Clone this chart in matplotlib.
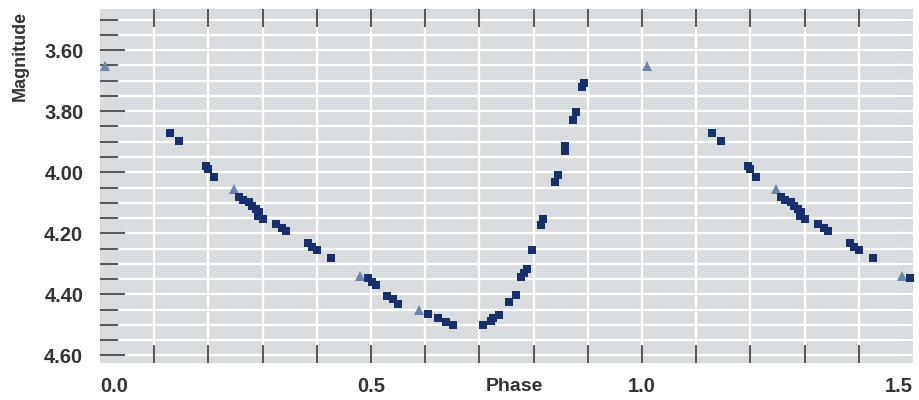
import matplotlib.pyplot as plt
import numpy as np

# phase-folded light curve
sq_phase = [0.129, 0.146, 0.196, 0.200, 0.211, 0.257, 0.264, 0.274, 0.281, 0.288,
            0.294, 0.292, 0.301, 0.325, 0.336, 0.344, 0.384, 0.392, 0.401, 0.427,
            0.494, 0.501, 0.510, 0.530, 0.540, 0.549, 0.606, 0.623, 0.638, 0.652,
            0.706, 0.721, 0.726, 0.737, 0.754, 0.767, 0.776, 0.782, 0.787, 0.797,
            0.813, 0.817, 0.839, 0.845, 0.858, 0.858, 0.872, 0.878, 0.889, 0.893]
sq_mag = [3.872, 3.898, 3.980, 3.990, 4.016, 4.082, 4.092, 4.098, 4.111, 4.121,
          4.131, 4.144, 4.154, 4.170, 4.184, 4.193, 4.233, 4.246, 4.256, 4.282,
          4.348, 4.361, 4.370, 4.407, 4.416, 4.433, 4.466, 4.479, 4.492, 4.502,
          4.502, 4.489, 4.479, 4.469, 4.426, 4.403, 4.344, 4.331, 4.318, 4.256,
          4.174, 4.154, 4.033, 4.010, 3.931, 3.915, 3.830, 3.803, 3.721, 3.708]

tri_phase = [0.009, 0.248, 0.479, 0.588]
tri_mag = [3.652, 4.056, 4.341, 4.452]

x_labels = ['0.0', '0.5', '1.0', '1.5']
x_label_pos = [0.0, 0.5, 1.0, 1.5]
x_label_ha = ['left', 'center', 'center', 'right']

# -------------------------------------------------- #

def fold_twice(phase, mag, upper=1.498):
    # show one and a half cycles: repeat each point one phase later
    phase = np.asarray(phase)
    mag = np.asarray(mag)
    p2 = phase + 1.0
    keep = p2 <= upper
    return np.concatenate([phase, p2[keep]]), np.concatenate([mag, mag[keep]])

bg = '#d9dcdf'
tick_col = '#5a5a5a'
text_col = '#333333'
font = ['Liberation Sans', 'DejaVu Sans']

fig = plt.figure(figsize=(9.19, 4.0), dpi=100)
ax = fig.add_axes([0.1088, 0.0925, 0.8847, 0.885])
ax.set_facecolor(bg)
for s in ax.spines.values():
    s.set_visible(False)

ax.set_xlim(0, 1.5)
ax.set_ylim(4.625, 3.465)

# white grid every 0.1 in phase, every 0.05 in magnitude
for v in np.arange(0.1, 1.45, 0.1):
    ax.axvline(v, color='white', lw=1.7, zorder=0.5)
for v in np.arange(3.5, 4.61, 0.05):
    ax.axhline(v, color='white', lw=1.7, zorder=0.5)

px, py = fold_twice(sq_phase, sq_mag)
tx, ty = fold_twice(tri_phase, tri_mag)
ax.plot(tx, ty, '^', color='#6d84ad', ms=7, mew=0, zorder=3, clip_on=False)
ax.plot(px, py, 's', color='#17306c', ms=5.4, mew=0, zorder=4)

# y ticks: long majors with labels, short minors
ax.set_yticks(np.arange(3.6, 4.61, 0.2))
ax.set_yticklabels([f'{v:.2f}' for v in np.arange(3.6, 4.61, 0.2)])
ax.set_yticks(np.arange(3.5, 4.61, 0.05), minor=True)
ax.tick_params(axis='y', which='major', direction='in', length=18, width=1.5,
               color=tick_col, pad=12, labelsize=14.5, labelcolor=text_col)
ax.tick_params(axis='y', which='minor', direction='in', length=13, width=1.5,
               color=tick_col)
for lab in ax.get_yticklabels():
    lab.set_fontweight('bold')
    lab.set_family(font)

# right side ticks, all the same length
sec = ax.secondary_yaxis('right')
sec.set_yticks(np.arange(3.5, 4.61, 0.05))
sec.set_yticklabels([])
sec.tick_params(direction='in', length=11, width=1.5, color=tick_col)
sec.spines['right'].set_visible(False)

# x ticks top and bottom, labels drawn as text
ax.set_xticks(np.arange(0.1, 1.45, 0.1))
ax.set_xticklabels([])
ax.tick_params(axis='x', which='major', direction='in', length=13, width=1.5,
               color=tick_col, top=True, bottom=True)

trans = ax.get_xaxis_transform()
for pos, lab, ha in zip(x_label_pos, x_labels, x_label_ha):
    ax.text(pos, -0.066, lab, transform=trans, ha=ha, va='center',
            fontsize=14.5, fontweight='bold', color=text_col, family=font)
ax.text(0.51, -0.066, 'Phase', transform=ax.transAxes, ha='center', va='center',
        fontsize=14, fontweight='bold', color=text_col, family=font)

fig.text(0.022, 0.86, 'Magnitude', rotation=90, ha='center', va='center',
         fontsize=13, fontweight='bold', color=text_col, family=font)

fig.savefig('out.png', dpi=100, facecolor='white')
